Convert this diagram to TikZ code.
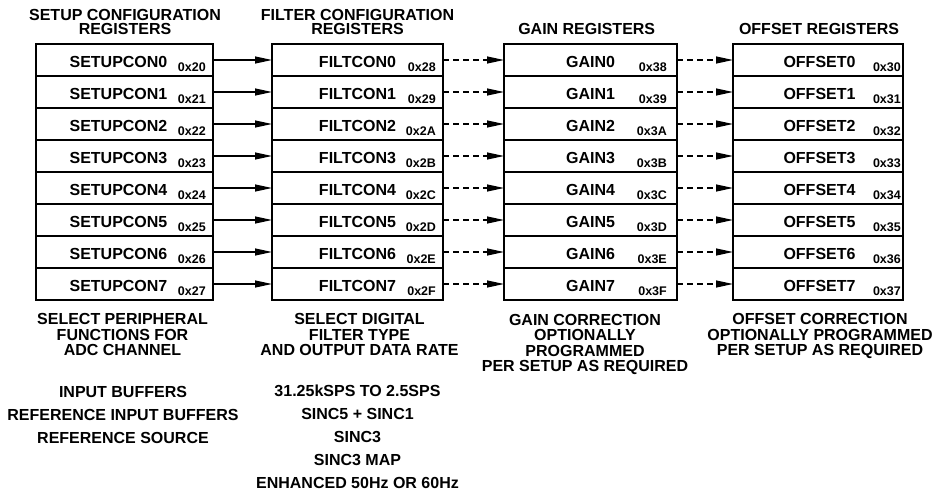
\documentclass[tikz,border=0pt]{standalone}
\usepackage{fontspec}
\setmainfont{Liberation Sans}
\usetikzlibrary{arrows.meta}

\tikzset{
  reg/.style={draw, line width=1.6pt, minimum height=32pt, inner sep=0pt, outer sep=0pt, anchor=north west},
  regname/.style={font=\fontsize{16}{16}\selectfont\bfseries, inner sep=0pt, anchor=base},
  reghex/.style={font=\fontsize{12.5}{12.5}\selectfont\bfseries, inner sep=0pt, anchor=base east},
  head/.style={font=\fontsize{16}{14.3}\selectfont\bfseries, align=center, inner sep=0pt, anchor=base},
  note/.style={font=\fontsize{16}{15.3}\selectfont\bfseries, align=center, inner sep=0pt, anchor=base},
  notelist/.style={font=\fontsize{16}{23}\selectfont\bfseries, align=center, inner sep=0pt, anchor=base},
  link/.style={line width=1.2pt, -{Triangle[length=17pt,width=7pt]}},
  dlink/.style={link, dash pattern=on 5.7pt off 4.3pt},
}

\begin{document}
\begin{tikzpicture}[x=1pt, y=-1pt]
  \useasboundingbox (0,0) rectangle (937,495);

  % Headings (base = last line)
  \node[head] (shead) at (125,35) {SETUP CONFIGURATION\\REGISTERS};
  \node[head] (fhead) at (357.5,35) {FILTER CONFIGURATION\\REGISTERS};
  \node[head] (ghead) at (586.7,35) {GAIN REGISTERS};
  \node[head] (ohead) at (819,35) {OFFSET REGISTERS};

  % Register stacks
  \foreach \i/\h in {0/8,1/9,2/A,3/B,4/C,5/D,6/E,7/F} {
    \node[reg, minimum width=177pt] (s\i) at (36,{44+32*\i}) {};
    \node[reg, minimum width=171pt] (f\i) at (272,{44+32*\i}) {};
    \node[reg, minimum width=173pt] (g\i) at (504,{44+32*\i}) {};
    \node[reg, minimum width=170pt] (o\i) at (733,{44+32*\i}) {};

    \node[regname] (s\i n) at (118.5,{67.5+32*\i}) {SETUPCON\i};
    \node[reghex] (s\i x) at (206,{71.5+32*\i}) {0x2\i};
    \node[regname] (f\i n) at (357.5,{67.5+32*\i}) {FILTCON\i};
    \node[reghex] (f\i x) at (436,{71.5+32*\i}) {0x2\h};
    \node[regname] (g\i n) at (590.5,{67.5+32*\i}) {GAIN\i};
    \node[reghex] (g\i x) at (667,{71.5+32*\i}) {0x3\h};
    \node[regname] (o\i n) at (819.5,{67.5+32*\i}) {OFFSET\i};
    \node[reghex] (o\i x) at (901,{71.5+32*\i}) {0x3\i};

    % Links
    \draw[link] (s\i.east) -- (f\i.west);
    \draw[dlink] (f\i.east) -- (g\i.west);
    \draw[dlink] (g\i.east) -- (o\i.west);
  }

  % Notes
  \node[note] (sdesc) at (122.5,355.5) {SELECT PERIPHERAL\\FUNCTIONS FOR\\ADC CHANNEL};
  \node[note] (fdesc) at (359.5,355.5) {SELECT DIGITAL\\FILTER TYPE\\AND OUTPUT DATA RATE};
  \node[note] (gdesc) at (585,371.5) {GAIN CORRECTION\\OPTIONALLY\\PROGRAMMED\\PER SETUP AS REQUIRED};
  \node[note] (odesc) at (820,355.5) {OFFSET CORRECTION\\OPTIONALLY PROGRAMMED\\PER SETUP AS REQUIRED};

  \node[notelist] (slist) at (123,443) {INPUT BUFFERS\\REFERENCE INPUT BUFFERS\\REFERENCE SOURCE};
  \node[notelist] (flist) at (357.5,488) {31.25kSPS TO 2.5SPS\\SINC5 + SINC1\\SINC3\\SINC3 MAP\\ENHANCED 50Hz OR 60Hz};
\end{tikzpicture}
\end{document}
